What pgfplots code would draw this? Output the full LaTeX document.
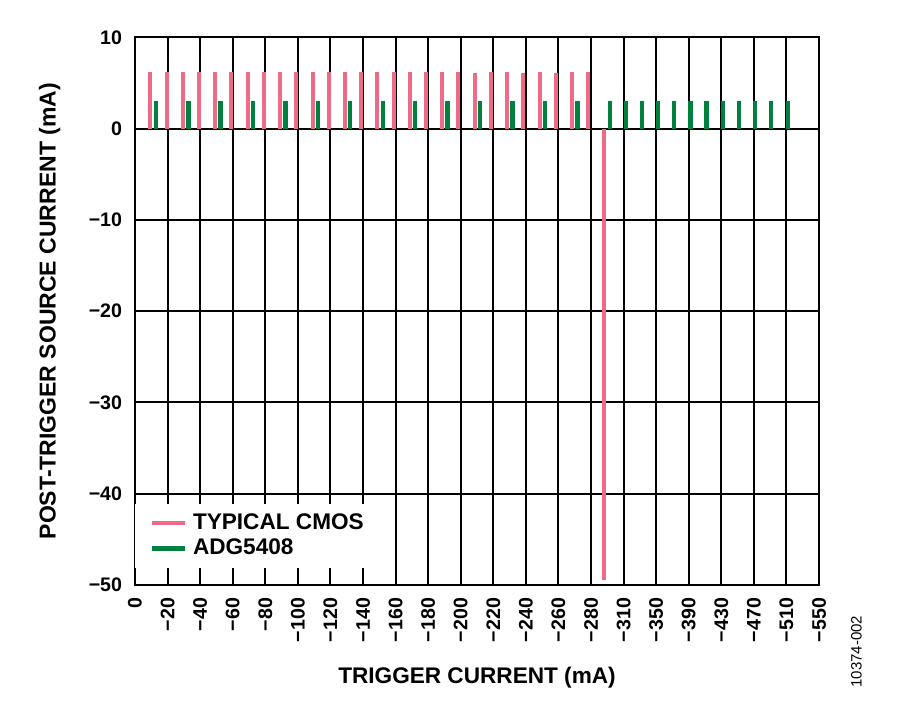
\documentclass[border=0pt]{standalone}
\usepackage{pgfplots}
\pgfplotsset{compat=1.18}
\usepackage{fontspec}
\setmainfont{Liberation Sans}
\definecolor{pinkc}{RGB}{238,106,134}
\definecolor{greenc}{RGB}{0,128,62}
\begin{document}
\begin{tikzpicture}
\path[use as bounding box] (0pt,0pt) rectangle (450pt,361pt);
\begin{axis}[
  at={(67.5pt,68.5pt)}, anchor=south west,
  scale only axis, width=342pt, height=273.85pt,
  xmin=0, xmax=21, ymin=-50, ymax=10,
  xtick={0,...,21},
  xticklabels={0,−20,−40,−60,−80,−100,−120,−140,−160,−180,−200,−220,−240,−260,−280,−310,−350,−390,−430,−470,−510,−550},
  ytick={-50,-40,-30,-20,-10,0,10},
  yticklabels={−50,−40,−30,−20,−10,0,10},
  grid=major,
  major grid style={black, line width=1pt},
  axis line style={black, line width=1pt},
  major tick length=0pt,
  tick label style={font=\fontsize{9.8}{11}\selectfont\bfseries, inner sep=0pt, outer sep=0pt},
  xticklabel style={rotate=90, anchor=east},
  yticklabel style={anchor=east},
  xticklabel shift=6.5pt,
  yticklabel shift=6.5pt,
  legend image code/.code={\draw[#1] (0pt,0pt) -- (16.5pt,0pt);},
  legend cell align=left,
  legend style={at={(axis description cs:0,0)}, anchor=south west, yshift=8.5pt,
    draw=none, fill=white, inner xsep=7.3pt, inner ysep=3.2pt, row sep=0pt, column sep=1.1pt,
    font=\fontsize{11.3}{13}\selectfont\bfseries, nodes={inner sep=1.7pt}},
]
\addplot[ycomb, pinkc, line width=2pt, forget plot] coordinates {
(0.47,6.2) (0.97,6.2) (1.47,6.2) (1.96,6.2) (2.46,6.2) (2.96,6.2) (3.46,6.2) (3.96,6.2)
(4.45,6.2) (4.95,6.2) (5.45,6.2) (5.95,6.2) (6.45,6.2) (6.94,6.2) (7.44,6.2) (7.94,6.2)
(8.44,6.2) (8.94,6.2) (9.43,6.2) (9.93,6.2) (10.43,6.1) (10.93,6.2) (11.43,6.2) (11.92,6.1)
(12.42,6.2) (12.92,6.1) (13.42,6.2) (13.92,6.2) (14.39,-49.5)
};
\addplot[ycomb, greenc, line width=2.2pt, forget plot] coordinates {
(0.65,3) (1.64,3) (2.63,3) (3.63,3) (4.62,3) (5.62,3) (6.61,3) (7.61,3)
(8.60,3) (9.60,3) (10.60,3) (11.59,3) (12.58,3) (13.58,3)
(14.59,3) (15.08,3) (15.57,3) (16.06,3) (16.55,3) (17.05,3) (17.54,3) (18.05,3)
(18.54,3) (19.03,3) (19.52,3) (20.04,3)
};
\addlegendimage{pinkc, line width=2.2pt}
\addlegendentry{TYPICAL CMOS}
\addlegendimage{greenc, line width=2.2pt}
\addlegendentry{ADG5408}
\end{axis}
\node[rotate=90, anchor=base, font=\fontsize{11.5}{13}\selectfont\bfseries, inner sep=0pt] at (27.85pt,205.4pt) {POST-TRIGGER SOURCE CURRENT (mA)};
\node[anchor=base, font=\fontsize{11.3}{13}\selectfont\bfseries, inner sep=0pt] at (238.5pt,19pt) {TRIGGER CURRENT (mA)};
\node[rotate=90, anchor=base, font=\fontsize{7.5}{9}\selectfont, inner sep=0pt] at (430.8pt,35.15pt) {10374-002};
\end{tikzpicture}
\end{document}
